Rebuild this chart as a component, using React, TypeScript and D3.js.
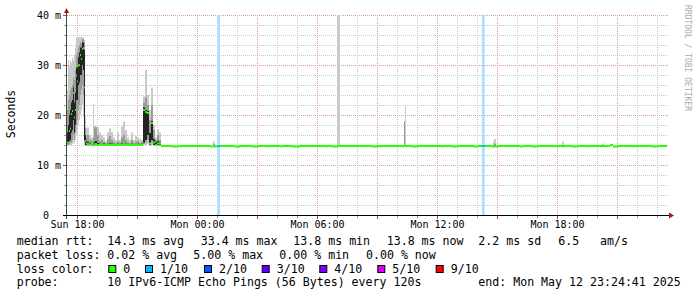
import React from 'react';
import * as d3 from 'd3';

// ---------- data ----------
const START = new Date(2025, 4, 11, 17, 30);
const END = new Date(2025, 4, 12, 23, 30);

// busy part (minutes after start), ms values
const busyMinutes = [0, 3, 6, 9, 12, 15, 18, 21, 24, 27, 30, 33, 36, 39, 42, 45, 48, 51, 54, 57, 60, 66, 72, 78, 81, 84, 90, 96, 102, 108, 114, 120, 126, 132, 138, 144, 150, 156, 162, 168, 174, 180, 186, 192, 198, 204, 210, 216, 222, 228, 234, 240, 246, 252, 258, 264, 270, 276];
const busyMedian = [14.5, 14.4, 16.8, 17.3, 20.2, 20.8, 24.4, 19.5, 21.0, 27.9, 26.7, 29.9, 30.0, 32.0, 31.2, 33.2, 33.4, 25.5, 14.7, 14.3, 14.2, 14.1, 14.2, 14.3, 14.1, 14.2, 14.0, 14.1, 14.2, 14.0, 14.0, 14.1, 14.1, 14.0, 14.0, 14.0, 14.1, 14.0, 14.1, 14.2, 14.1, 14.0, 14.0, 14.1, 14.0, 14.0, 14.1, 14.0, 14.1, 21.0, 20.6, 20.4, 14.3, 18.4, 14.5, 14.0, 14.3, 14.3];
const busyLow = [13.8, 13.8, 13.9, 14.0, 14.0, 14.2, 14.5, 14.3, 15.0, 16.0, 17.0, 18.0, 19.0, 20.0, 21.0, 22.0, 20.0, 14.0, 13.8, 13.8, 13.8, 13.8, 13.8, 13.8, 13.8, 13.8, 13.8, 13.8, 13.8, 13.8, 13.8, 13.8, 13.8, 13.8, 13.8, 13.8, 13.8, 13.8, 13.8, 13.8, 13.8, 13.8, 13.8, 13.8, 13.8, 13.8, 13.8, 13.8, 13.8, 14.0, 14.0, 14.2, 13.8, 14.0, 13.8, 13.8, 13.8, 13.8];
const busyMidLow = [14.0, 14.0, 14.2, 14.5, 14.5, 15.0, 16.0, 15.0, 16.5, 18.0, 19.0, 21.0, 22.0, 24.0, 25.0, 26.0, 24.0, 14.5, 13.9, 13.9, 13.9, 13.9, 13.9, 13.9, 13.9, 13.9, 13.9, 13.9, 13.9, 13.9, 13.9, 13.9, 13.9, 13.9, 13.9, 13.9, 13.9, 13.9, 13.9, 13.9, 13.9, 13.9, 13.9, 13.9, 13.9, 13.9, 13.9, 13.9, 13.9, 14.2, 14.5, 15.0, 14.0, 14.5, 14.0, 13.9, 13.9, 13.9];
const busyDarkLow = [14.2, 14.2, 14.8, 15.0, 16.5, 17.0, 19.0, 16.5, 18.0, 23.0, 23.0, 26.0, 26.5, 28.0, 28.0, 30.0, 29.0, 15.0, 14.0, 14.0, 14.0, 14.0, 14.0, 14.0, 14.0, 14.0, 14.0, 14.0, 14.0, 14.0, 13.9, 14.0, 14.0, 14.0, 13.9, 13.9, 14.0, 13.9, 14.0, 14.0, 14.0, 13.9, 13.9, 14.0, 13.9, 13.9, 14.0, 13.9, 14.0, 14.5, 15.0, 16.0, 14.0, 15.0, 14.0, 13.9, 14.0, 14.0];
const busyDarkHigh = [16.5, 18.0, 20.0, 21.0, 22.5, 23.0, 25.5, 22.5, 24.5, 29.5, 29.5, 31.5, 32.5, 33.5, 33.5, 34.5, 34.5, 33.0, 16.0, 14.8, 14.6, 14.4, 14.4, 14.5, 14.6, 14.8, 14.4, 14.3, 14.4, 14.3, 14.2, 14.3, 14.4, 14.3, 14.2, 14.2, 14.3, 14.2, 14.4, 14.4, 14.3, 14.2, 14.2, 14.3, 14.2, 14.2, 14.3, 14.2, 14.3, 21.5, 21.0, 20.8, 16.4, 18.8, 15.2, 14.5, 14.8, 14.5];
const busyMidHigh = [21.0, 23.0, 24.0, 25.0, 25.5, 26.0, 27.5, 27.0, 29.0, 32.0, 32.5, 33.5, 34.0, 34.5, 34.5, 35.2, 35.2, 34.5, 17.5, 15.5, 16.0, 15.0, 14.8, 15.5, 17.6, 17.5, 16.0, 14.8, 15.0, 14.6, 14.4, 15.2, 15.8, 15.0, 14.6, 14.4, 14.8, 14.5, 15.5, 16.0, 15.0, 14.6, 14.4, 15.0, 14.4, 14.6, 14.8, 14.4, 14.6, 22.5, 23.5, 22.0, 19.0, 22.0, 17.0, 15.0, 16.0, 15.0];
const busyHigh = [25.0, 31.0, 30.0, 31.0, 30.5, 31.5, 31.0, 32.0, 33.5, 35.5, 35.5, 35.6, 35.6, 35.6, 35.6, 35.6, 35.5, 35.0, 20.0, 17.5, 17.5, 16.0, 15.5, 22.2, 17.8, 17.8, 17.6, 16.5, 16.0, 15.5, 14.8, 16.5, 17.3, 16.6, 15.5, 15.0, 16.5, 15.0, 17.7, 18.7, 17.0, 15.5, 15.0, 16.5, 15.0, 15.8, 15.5, 15.2, 15.0, 23.7, 29.0, 24.0, 21.0, 25.5, 18.0, 15.5, 17.2, 16.5];

// quiet part: median steps
const quietMinutes = [282, 315, 333, 339, 342, 429, 450, 501, 519, 555, 570, 600, 603, 639, 642, 675, 699, 780, 783, 795, 810, 915, 930, 939, 942, 1008, 1011, 1035, 1050, 1125, 1128, 1155, 1170, 1218, 1233, 1275, 1290, 1359, 1368, 1395, 1410, 1458, 1461, 1488, 1491, 1515, 1530, 1563, 1566, 1629, 1638, 1650, 1698, 1701, 1755, 1770];
const quietMedian = [13.8, 13.7, 13.8, 13.7, 13.8, 13.7, 13.8, 13.7, 13.8, 13.7, 13.8, 13.7, 13.8, 13.7, 13.8, 13.7, 13.8, 13.7, 13.8, 13.7, 13.8, 13.7, 13.8, 13.7, 13.8, 13.7, 13.8, 13.7, 13.8, 13.7, 13.8, 13.7, 13.8, 13.7, 13.8, 13.7, 13.8, 13.7, 13.8, 13.7, 13.8, 13.7, 13.8, 13.7, 13.8, 13.7, 13.8, 13.7, 13.8, 14.0, 13.7, 13.8, 13.7, 13.8, 13.7, 13.8];
const quietEnd = 1800;

// isolated smoke spikes in the quiet part
const spikeMinutes = [438, 702, 810, 1011, 1014, 1062, 1251, 1278, 1281, 1485, 1605];
const spikeSpan = [6, 3, 9, 3, 3, 3, 3, 3, 6, 6, 6];
const spikeLow = [13.8, 13.8, 13.8, 13.8, 13.8, 13.8, 13.8, 13.8, 13.8, 13.8, 13.8];
const spikeMid = [14.2, 13.9, 13.8, 18.7, 13.8, 13.9, 14.0, 14.0, 14.2, 14.0, 13.9];
const spikeHigh = [14.7, 14.3, 45.0, 18.7, 22.0, 14.3, 14.5, 14.7, 15.2, 14.7, 14.3];

// packet loss periods (1/10)
const lossStart = [451, 1245];
const lossEnd = [459, 1253];
const lossMedian = [13.8, 13.8];

const yTickValues = [0, 10, 20, 30, 40];
const yTickLabels = ['0  ', '10 m', '20 m', '30 m', '40 m'];

const rttStats = ['14.3 ms avg', '33.4 ms max', '13.8 ms min', '13.8 ms now', '2.2 ms sd', '6.5', 'am/s'];
const lossStats = ['0.02 % avg', '5.00 % max', '0.00 % min', '0.00 % now'];
const lossLabels = ['0', '1/10', '2/10', '3/10', '4/10', '5/10', '9/10'];
const lossColors = ['#26ff00', '#00b8ff', '#0059ff', '#5e00ff', '#7e00ff', '#dd00ff', '#ff0000'];
const probeText = '10 IPv6-ICMP Echo Pings (56 Bytes) every 120s';
const endText = 'end: Mon May 12 23:24:41 2025';

// ---------- layout ----------
const W = 697;
const H = 297;
const PL = 67, PR = 667, PT = 15, PB = 215;
const FONT = "'DejaVu Sans Mono', monospace";
const rttX = [107.3, 200.7, 293.3, 386.7, 478.3, 558.3, 600];
const lossX = [107.3, 193.3, 279.3, 366];
const boxX = [108.3, 145, 204, 261.7, 319.3, 377.3, 435.7];
const LINE_Y = [245.3, 259, 272.7, 286.3];

const LIGHT = '#c9c9c9';
const MID = '#9a9a9a';
const DARK = '#242424';

export default function App() {
  const x = d3.scaleTime().domain([START, END]).range([PL, PR]);
  const y = d3.scaleLinear().domain([0, 40]).range([PB, PT]);
  const at = (m: number) => x(d3.timeMinute.offset(START, m));

  const hours = d3.timeHour.range(d3.timeMinute.offset(START, 1), END);
  const yMinor = d3.range(2, 41, 2);

  const bandRect = (key: string, m0: number, m1: number, lo: number, hi: number, fill: string) => {
    if (hi <= lo) return null;
    const x0 = at(m0), x1 = at(m1);
    return <rect key={key} x={x0} y={y(hi)} width={x1 - x0} height={y(lo) - y(hi)} fill={fill} />;
  };

  const busyEls: React.ReactNode[] = [];
  busyMinutes.forEach((m, i) => {
    const m1 = i + 1 < busyMinutes.length ? busyMinutes[i + 1] : quietMinutes[0];
    busyEls.push(bandRect('bl' + i, m, m1, busyLow[i], busyHigh[i], LIGHT));
    busyEls.push(bandRect('bm' + i, m, m1, busyMidLow[i], busyMidHigh[i], MID));
    busyEls.push(bandRect('bd' + i, m, m1, busyDarkLow[i], busyDarkHigh[i], DARK));
  });
  const spikeEls = spikeMinutes.map((m, i) => (
    <g key={'s' + i}>
      {bandRect('sl' + i, m, m + spikeSpan[i], spikeLow[i], spikeHigh[i], LIGHT)}
      {bandRect('sm' + i, m, m + spikeSpan[i], spikeLow[i], spikeMid[i], MID)}
    </g>
  ));

  const medRect = (key: string, m0: number, m1: number, v: number, color: string) => {
    const x0 = at(m0), x1 = at(m1);
    return <rect key={key} x={x0} y={y(v) - 1} width={x1 - x0} height={2} fill={color} />;
  };
  const medianEls: React.ReactNode[] = [];
  busyMinutes.forEach((m, i) => {
    const m1 = i + 1 < busyMinutes.length ? busyMinutes[i + 1] : quietMinutes[0];
    medianEls.push(medRect('mb' + i, m, m1, busyMedian[i], lossColors[0]));
  });
  quietMinutes.forEach((m, i) => {
    const m1 = i + 1 < quietMinutes.length ? quietMinutes[i + 1] : quietEnd;
    medianEls.push(medRect('mq' + i, m, m1, quietMedian[i], lossColors[0]));
  });
  lossStart.forEach((m, i) => {
    medianEls.push(medRect('ml' + i, m, lossEnd[i], lossMedian[i], lossColors[1]));
  });

  return (
    <svg width={W} height={H} style={{ position: 'absolute', left: 0, top: 0, background: '#fff' }}
      fontFamily={FONT}>
      <rect x={0} y={0} width={W} height={H} fill="#fff" />
      <defs>
        <clipPath id="plot"><rect x={PL} y={PT} width={PR - PL + 2} height={PB - PT} /></clipPath>
      </defs>

      {/* grid */}
      <g>
        {yMinor.map((v) => (
          <line key={'gy' + v} x1={PL} x2={669} y1={y(v) + 0.5} y2={y(v) + 0.5}
            stroke={v % 10 === 0 ? '#e09a9a' : '#c8c8c8'} strokeDasharray="1,1" />
        ))}
        {hours.map((h, i) => {
          const major = h.getHours() % 3 === 0;
          return (
            <line key={'gx' + i} x1={x(h) + 0.5} x2={x(h) + 0.5} y1={PT} y2={PB}
              stroke={major ? '#e09a9a' : '#c8c8c8'} strokeDasharray="1,1" />
          );
        })}
      </g>

      <g clipPath="url(#plot)">
        {lossStart.map((m, i) => (
          <rect key={'lb' + i} x={at(m)} y={PT} width={at(lossEnd[i]) - at(m)} height={PB - PT} fill="#a4e2fd" />
        ))}
        {busyEls}
        {spikeEls}
        {medianEls}
      </g>

      {/* axes */}
      <g>
        {yMinor.map((v) => (
          <line key={'ty' + v} x1={v % 10 === 0 ? 63 : 64} x2={66} y1={y(v) + 0.5} y2={y(v) + 0.5}
            stroke={v % 10 === 0 ? '#c04040' : '#999'} />
        ))}
        {hours.map((h, i) => {
          const major = h.getHours() % 3 === 0;
          return (
            <line key={'tx' + i} x1={x(h) + 0.5} x2={x(h) + 0.5} y1={216} y2={major ? 219 : 218}
              stroke={major ? '#c04040' : '#999'} />
          );
        })}
        <line x1={66.5} x2={66.5} y1={12} y2={219} stroke="#444" />
        <line x1={63} x2={670} y1={215.5} y2={215.5} stroke="#000" />
        <polygon points="64,13 69,13 66.5,8" fill="#a01818" />
        <polygon points="669,212.5 669,218.5 674,215.5" fill="#a01818" />
      </g>

      {/* y labels */}
      {yTickValues.map((v, i) => (
        <text key={'yl' + v} x={61} y={y(v) + 3.7} textAnchor="end" fontSize={10}
          style={{ whiteSpace: 'pre' }} xmlSpace="preserve">{yTickLabels[i]}</text>
      ))}
      {/* x labels */}
      {hours.filter((h) => h.getHours() % 6 === 0).map((h, i) => (
        <text key={'xl' + i} x={x(h) + 0.5} y={228.4} textAnchor="middle" fontSize={10}>
          {d3.timeFormat('%a %H:%M')(h)}
        </text>
      ))}

      <text transform="translate(15,114) rotate(-90)" textAnchor="middle" fontSize={11.5}>Seconds</text>
      <text transform="translate(684.5,5) rotate(90)" fontSize={8} fill="#aaa">RRDTOOL / TOBI OETIKER</text>

      {/* legend */}
      <g fontSize={11.6} fill="#000">
        <text x={16.7} y={LINE_Y[0]}>median rtt:</text>
        {rttStats.map((s, i) => <text key={'r' + i} x={rttX[i]} y={LINE_Y[0]}>{s}</text>)}
        <text x={16.7} y={LINE_Y[1]}>packet loss:</text>
        {lossStats.map((s, i) => <text key={'p' + i} x={lossX[i]} y={LINE_Y[1]}>{s}</text>)}
        <text x={16.7} y={LINE_Y[2]}>loss color:</text>
        {lossLabels.map((s, i) => (
          <g key={'lc' + i}>
            <rect x={boxX[i] + 0.5} y={265.5} width={7} height={7} fill={lossColors[i]} stroke="#000" />
            <text x={boxX[i] + 15} y={LINE_Y[2]}>{s}</text>
          </g>
        ))}
        <text x={16.7} y={LINE_Y[3]}>probe:</text>
        <text x={107.3} y={LINE_Y[3]}>{probeText}</text>
        <text x={478.3} y={LINE_Y[3]}>{endText}</text>
      </g>
    </svg>
  );
}
